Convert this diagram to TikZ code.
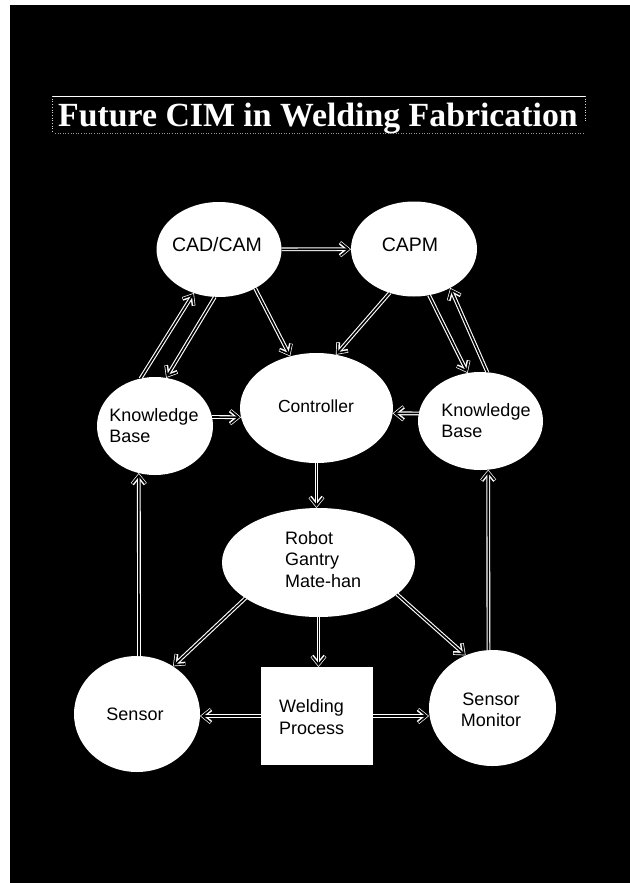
\documentclass[tikz,border=0pt]{standalone}
\usepackage{fontspec}
\setmainfont{Liberation Sans}
\newfontfamily\titlefont{Liberation Serif}
\usetikzlibrary{arrows.meta,shapes.geometric}

\begin{document}
\begin{tikzpicture}[x=1pt,y=-1pt,
  bubble/.style={ellipse, fill=white, draw=none, inner sep=0pt, outer sep=0pt},
  panel/.style={rectangle, fill=white, draw=none, inner sep=0pt, outer sep=0pt},
  lbl/.style={text=black, font=\fontsize{18}{21.5}\selectfont, align=left, inner sep=0pt},
  biglbl/.style={lbl, font=\fontsize{19.5}{23}\selectfont},
  % hollow double-line arrow: a wide white stroke with a thin black core
  flow/.style={draw=white, line width=3.8pt,
    -{Straight Barb[length=8pt,width=13pt]},
    postaction={draw=black, line width=1.6pt, shorten >=1.1pt,
      -{Straight Barb[length=8pt,width=13pt]}}}]

\useasboundingbox (0,0) rectangle (629,883);
\fill[white] (0,0) rectangle (629,883);
\fill[black] (10,5) rectangle (640,895);

% title and its frame
\node[anchor=base west, inner sep=0pt, text=white,
      font=\titlefont\bfseries\fontsize{33.8}{40}\selectfont] (title) at (58,126)
      {Future CIM in Welding Fabrication};
\draw[white, line width=1pt] (52,96) -- (585,96);
\draw[white!85!black, line width=0.7pt, dotted] (52,96) -- (52,133);
\draw[white!85!black, line width=0.7pt, dotted] (585,96) -- (585,122);
\draw[white!60!black, line width=0.6pt, dotted] (55,133) -- (585,133);

% bubbles
\node[bubble, minimum width=125pt, minimum height=95pt] (cad)   at (219,249.5) {};
\node[bubble, minimum width=126pt, minimum height=95pt] (capm)  at (414,249) {};
\node[bubble, minimum width=116pt, minimum height=98pt] (kbl)   at (155,426) {};
\node[bubble, minimum width=153pt, minimum height=110pt] (ctrl) at (316.5,408) {};
\node[bubble, minimum width=125pt, minimum height=98pt] (kbr)   at (480.5,421) {};
\node[bubble, minimum width=193pt, minimum height=109pt] (robot) at (318.5,562.5) {};
\node[bubble, minimum width=126pt, minimum height=116pt] (sens) at (137,714) {};
\node[panel, minimum width=112pt, minimum height=98pt] (box)    at (317,716) {};
\node[bubble, minimum width=127pt, minimum height=116pt] (smon) at (492.5,708) {};

% labels
\node[biglbl] (cad-t)  at (217,245) {CAD/CAM};
\node[biglbl] (capm-t) at (410,245) {CAPM};
\node[lbl] (kbl-t)  at (154,425.5) {Knowledge\\Base};
\node[lbl, font=\fontsize{17.5}{21}\selectfont] (ctrl-t) at (316,406) {Controller};
\node[lbl] (kbr-t)  at (486,420.5) {Knowledge\\Base};
\node[lbl, anchor=west] (robot-t) at (285,559.5) {Robot\\Gantry\\Mate-han};
\node[lbl] (sens-t) at (135,714) {Sensor};
\node[lbl, anchor=west] (box-t) at (279,717) {Welding\\Process};
\node[lbl, align=center] (smon-t) at (491,710) {Sensor\\Monitor};

% connectors
\draw[flow] (cad) -- (capm);
\draw[flow] (kbl.107) -- (cad.240);
\draw[flow] (cad.265) -- (kbl.77);
\draw[flow] (cad.313) -- (ctrl.117);
\draw[flow] (capm.241) -- (ctrl.70);
\draw[flow] (capm.288) -- (kbr.105);
\draw[flow] (kbr.82) -- (capm.313);
\draw[flow] (kbl.9) -- (ctrl.187);
\draw[flow] (kbr.173) -- (ctrl.356);
\draw[flow] (ctrl.south) -- (ctrl.south |- robot.north);
\draw[flow] (sens.88) -- (kbl.251);
\draw[flow] (smon.94) -- (kbr.279);
\draw[flow] (robot.206) -- (sens.53);
\draw[flow] (robot.south) -- (robot.south |- box.north);
\draw[flow] (robot.338) -- (smon.117);
\draw[flow] (box.west) -- (box.west -| sens.east);
\draw[flow] (box.east) -- (box.east -| smon.west);
\end{tikzpicture}
\end{document}
